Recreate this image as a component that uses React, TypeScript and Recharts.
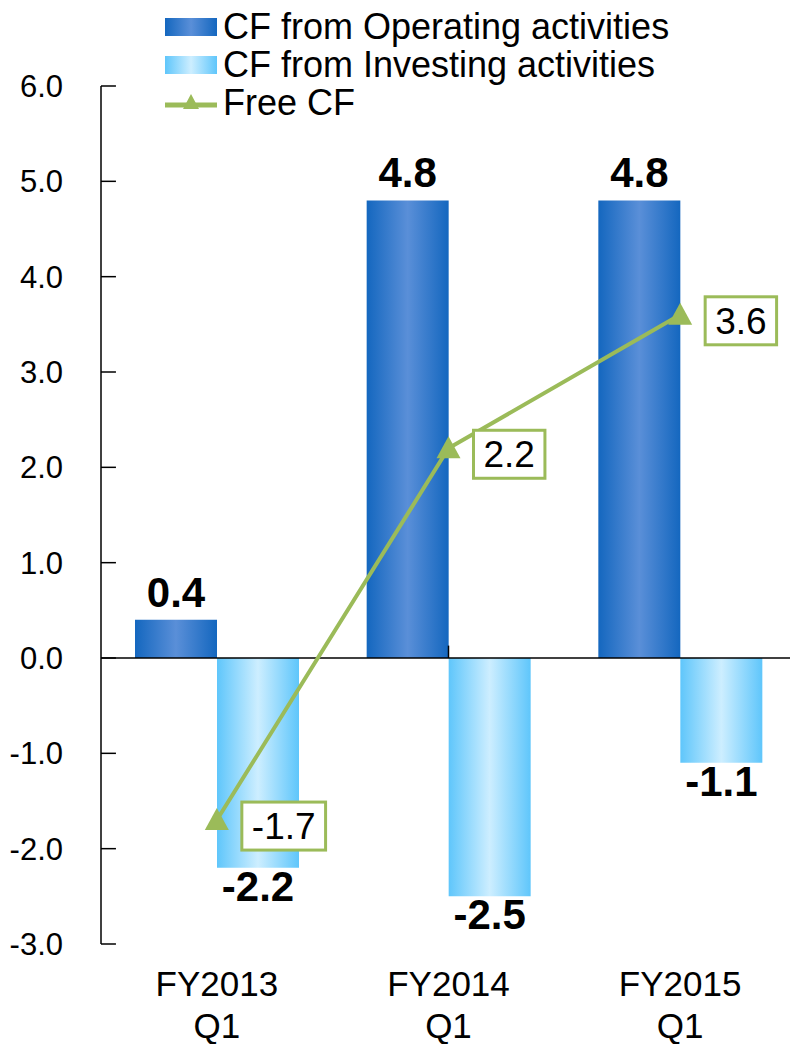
import { ComposedChart, Bar, Line, XAxis, YAxis, ReferenceLine, LabelList } from "recharts";

const PERIODS = ["FY2013", "FY2014", "FY2015"];
const QUARTERS = ["Q1", "Q1", "Q1"];
const OPERATING_CF = [0.4, 4.8, 4.8];
const INVESTING_CF = [-2.2, -2.5, -1.1];
const FREE_CF = [-1.7, 2.2, 3.6];
const Y_TICKS = [-3, -2, -1, 0, 1, 2, 3, 4, 5, 6];
const CATEGORY_EDGES = [1, 2];

const SERIES_NAMES = ["CF from Operating activities", "CF from Investing activities", "Free CF"];

const FONT = '"Liberation Sans", Arial, Helvetica, sans-serif';
const GREEN = "#9BBB59";

const data = PERIODS.map((p, i) => ({
  period: `${p} ${QUARTERS[i]}`,
  operating: OPERATING_CF[i],
  investing: INVESTING_CF[i],
  free: FREE_CF[i],
}));

// rough Arial advance widths, used to size the boxes around the Free CF labels
const charWidth = (c: string) => (c === "." ? 0.278 : c === "-" ? 0.333 : 0.556);
const textWidth = (s: string, size: number) => s.split("").reduce((w, c) => w + charWidth(c) * size, 0);

function PeriodTick(props: any) {
  const { x, y, payload } = props;
  const [fy, q] = String(payload.value).split(" ");
  return (
    <g>
      <text x={x} y={y + 52} textAnchor="middle" fontSize={35} fill="#000" fontFamily={FONT}>
        {fy}
      </text>
      <text x={x} y={y + 94} textAnchor="middle" fontSize={35} fill="#000" fontFamily={FONT}>
        {q}
      </text>
    </g>
  );
}

function renderBarLabel(props: any) {
  const { x, y, width, height, value } = props;
  const v = Number(value);
  const top = Math.min(y, y + height);
  const bottom = Math.max(y, y + height);
  const ty = v >= 0 ? top - 13 : bottom + 33;
  return (
    <text x={x + width / 2} y={ty} textAnchor="middle" fontSize={42} fontWeight="bold" fill="#000" fontFamily={FONT}>
      {v.toFixed(1)}
    </text>
  );
}

function renderFreeLabel(props: any) {
  const { x, y, value } = props;
  const s = Number(value).toFixed(1);
  const size = 37;
  const w = textWidth(s, size) + 20;
  const h = 48;
  const left = x + 25;
  const cy = y + 6;
  return (
    <g>
      <rect x={left} y={cy - h / 2} width={w} height={h} fill="#fff" stroke={GREEN} strokeWidth={3} />
      <text x={left + w / 2} y={cy + 13} textAnchor="middle" fontSize={size} fill="#000" fontFamily={FONT}>
        {s}
      </text>
    </g>
  );
}

function TriangleDot(props: any) {
  const { cx, cy } = props;
  if (cx == null || cy == null) return null;
  return <polygon points={`${cx},${cy - 12} ${cx - 12},${cy + 10} ${cx + 12},${cy + 10}`} fill={GREEN} />;
}

function LegendBlock() {
  const row = { display: "flex", alignItems: "center", height: 38 } as const;
  const text = { fontSize: 36, lineHeight: "38px", marginLeft: 6, color: "#000", whiteSpace: "nowrap" } as const;
  return (
    <div style={{ position: "absolute", left: 165, top: 8, fontFamily: FONT }}>
      <div style={row}>
        <div style={{ width: 52, height: 18, background: "linear-gradient(to right, #1467bf, #5a8fd8 50%, #1467bf)" }} />
        <span style={text}>{SERIES_NAMES[0]}</span>
      </div>
      <div style={row}>
        <div style={{ width: 52, height: 18, background: "linear-gradient(to right, #5fc6fb, #cdeeff 50%, #5fc6fb)" }} />
        <span style={text}>{SERIES_NAMES[1]}</span>
      </div>
      <div style={row}>
        <svg width={52} height={24}>
          <line x1={0} y1={14} x2={52} y2={14} stroke={GREEN} strokeWidth={5} />
          <polygon points="26,3 18,18 34,18" fill={GREEN} />
        </svg>
        <span style={text}>{SERIES_NAMES[2]}</span>
      </div>
    </div>
  );
}

export default function App() {
  return (
    <div style={{ position: "relative", width: 790, height: 1044, overflow: "hidden", background: "#fff" }}>
      <style>{"body{margin:0}"}</style>
      <ComposedChart
        width={800}
        height={1044}
        data={data}
        margin={{ top: 86, right: 4, bottom: 0, left: 0 }}
        barGap={0}
        style={{ fontFamily: FONT }}
      >
        <defs>
          <linearGradient id="opGrad" x1="0" y1="0" x2="1" y2="0">
            <stop offset="0%" stopColor="#1467bf" />
            <stop offset="50%" stopColor="#5a8fd8" />
            <stop offset="100%" stopColor="#1467bf" />
          </linearGradient>
          <linearGradient id="invGrad" x1="0" y1="0" x2="1" y2="0">
            <stop offset="0%" stopColor="#5fc6fb" />
            <stop offset="50%" stopColor="#cdeeff" />
            <stop offset="100%" stopColor="#5fc6fb" />
          </linearGradient>
        </defs>
        <XAxis
          dataKey="period"
          height={100}
          axisLine={false}
          tickLine={false}
          tickSize={0}
          tickMargin={0}
          interval={0}
          tick={<PeriodTick />}
        />
        <XAxis xAxisId="edges" type="number" domain={[0, 3]} hide />
        <YAxis
          domain={[-3, 6]}
          ticks={Y_TICKS}
          interval={0}
          width={101}
          tickSize={0}
          tickMargin={38}
          tickLine={false}
          tickFormatter={(v: number) => v.toFixed(1)}
          axisLine={{ stroke: "#000", strokeWidth: 1.5 }}
          tick={{ fontSize: 31, fill: "#000", fontFamily: FONT }}
        />
        <Bar dataKey="operating" fill="url(#opGrad)" barSize={82} isAnimationActive={false}>
          <LabelList dataKey="operating" content={renderBarLabel} />
        </Bar>
        <Bar dataKey="investing" fill="url(#invGrad)" barSize={82} isAnimationActive={false}>
          <LabelList dataKey="investing" content={renderBarLabel} />
        </Bar>
        <ReferenceLine y={0} stroke="#000" strokeWidth={1.5} />
        {/* inward tick marks on the value axis */}
        {Y_TICKS.map((t) => (
          <ReferenceLine
            key={`y${t}`}
            xAxisId="edges"
            segment={[
              { x: 0, y: t },
              { x: 0.043, y: t },
            ]}
            stroke="#000"
            strokeWidth={1.5}
          />
        ))}
        {/* short category separators standing on the zero line */}
        {CATEGORY_EDGES.map((e) => (
          <ReferenceLine
            key={`c${e}`}
            xAxisId="edges"
            segment={[
              { x: e, y: 0 },
              { x: e, y: 0.13 },
            ]}
            stroke="#000"
            strokeWidth={1.5}
          />
        ))}
        <Line
          type="linear"
          dataKey="free"
          stroke={GREEN}
          strokeWidth={4}
          dot={<TriangleDot />}
          activeDot={false}
          isAnimationActive={false}
        >
          <LabelList dataKey="free" content={renderFreeLabel} />
        </Line>
      </ComposedChart>
      <LegendBlock />
    </div>
  );
}
